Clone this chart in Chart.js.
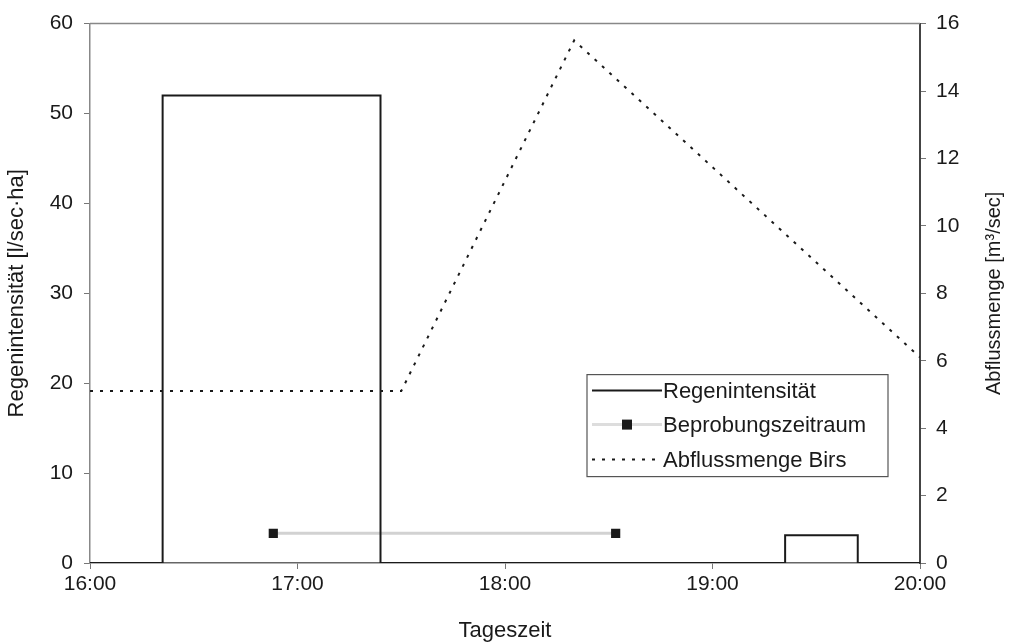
<!DOCTYPE html>
<html lang="de">
<head>
  <meta charset="UTF-8">
  <title>Regenintensität und Abflussmenge</title>
  <script src="https://cdn.jsdelivr.net/npm/chart.js"></script>
  <style>
    html, body { margin: 0; padding: 0; background: #fff; }
    #wrap { width: 1010px; height: 644px; position: relative; }
  </style>
</head>
<body>
  <div id="wrap"><canvas id="chart"></canvas></div>

  <script>
    // Zeit in Minuten nach 16:00
    const rainTimes  = [0, 21, 21, 84, 84, 201, 201, 222, 222, 240];
    const rainValues = [0, 0, 52, 52, 0, 0, 3.1, 3.1, 0, 0];

    const sampleTimes  = [53, 152];
    const sampleValues = [3.3, 3.3];

    const flowTimes  = [0, 90, 140, 240];
    const flowValues = [5.1, 5.1, 15.5, 6.1];

    const leftTicks  = [0, 10, 20, 30, 40, 50, 60];
    const rightTicks = [0, 2, 4, 6, 8, 10, 12, 14, 16];
    const timeTicks  = [0, 60, 120, 180, 240];

    const rightTitle = "Abflussmenge [m³/sec]";

    const pts = (xs, ys) => xs.map((x, i) => ({ x: x, y: ys[i] }));
    const fmtTime = m => (16 + Math.floor(m / 60)) + ":" + String(m % 60).padStart(2, "0");

    const FONT = 'Arial, "Liberation Sans", sans-serif';
    const ink = "#1a1a1a";

    // Rahmen oben, rechte Achsenbeschriftung und Legende
    const framePlugin = {
      id: "frame",
      afterDraw(chart) {
        const { ctx, chartArea: a } = chart;
        ctx.save();
        ctx.strokeStyle = "#888";
        ctx.lineWidth = 1.5;
        ctx.beginPath();
        ctx.moveTo(a.left, a.top);
        ctx.lineTo(a.right, a.top);
        ctx.stroke();

        // rechte Achse: von unten nach oben lesbar
        ctx.save();
        ctx.translate(chart.width - 16, (a.top + a.bottom) / 2);
        ctx.rotate(-Math.PI / 2);
        ctx.font = "20px " + FONT;
        ctx.fillStyle = ink;
        ctx.textAlign = "center";
        ctx.textBaseline = "middle";
        ctx.fillText(rightTitle, 0, 0);
        ctx.restore();

        // Legende
        const bx = a.right - 333, by = a.top + 351, bw = 301, bh = 102;
        ctx.fillStyle = "#fff";
        ctx.fillRect(bx, by, bw, bh);
        ctx.strokeStyle = "#555";
        ctx.lineWidth = 1.2;
        ctx.strokeRect(bx, by, bw, bh);

        const rows = [by + 16, by + 50, by + 85];
        const x0 = bx + 5, x1 = bx + 75;
        ctx.font = "22px " + FONT;
        ctx.textBaseline = "middle";

        ctx.strokeStyle = ink;
        ctx.lineWidth = 2;
        ctx.beginPath(); ctx.moveTo(x0, rows[0]); ctx.lineTo(x1, rows[0]); ctx.stroke();

        ctx.strokeStyle = "#ddd";
        ctx.lineWidth = 3;
        ctx.beginPath(); ctx.moveTo(x0, rows[1]); ctx.lineTo(x1, rows[1]); ctx.stroke();
        ctx.fillStyle = ink;
        ctx.fillRect((x0 + x1) / 2 - 5, rows[1] - 5, 10, 10);

        ctx.strokeStyle = ink;
        ctx.lineWidth = 2;
        ctx.setLineDash([3, 7]);
        ctx.beginPath(); ctx.moveTo(x0, rows[2]); ctx.lineTo(x1, rows[2]); ctx.stroke();
        ctx.setLineDash([]);

        ctx.fillStyle = ink;
        chart.data.datasets.forEach((d, i) => ctx.fillText(d.label, x1 + 1, rows[i] + 1));
        ctx.restore();
      }
    };

    const axisGrid = {
      drawOnChartArea: false,
      drawTicks: true,
      tickLength: 6,
      color: "#777"
    };

    new Chart(document.getElementById("chart"), {
      type: "line",
      data: {
        datasets: [
          {
            label: "Regenintensität",
            data: pts(rainTimes, rainValues),
            yAxisID: "y",
            borderColor: ink,
            borderWidth: 2,
            pointRadius: 0,
            tension: 0
          },
          {
            label: "Beprobungszeitraum",
            data: pts(sampleTimes, sampleValues),
            yAxisID: "y",
            borderColor: "#d2d2d2",
            borderWidth: 3,
            pointStyle: "rect",
            pointRadius: 6.5,
            pointBackgroundColor: ink,
            pointBorderColor: ink,
            pointBorderWidth: 0
          },
          {
            label: "Abflussmenge Birs",
            data: pts(flowTimes, flowValues),
            yAxisID: "y1",
            borderColor: ink,
            borderWidth: 2,
            borderDash: [3, 7],
            pointRadius: 0,
            tension: 0
          }
        ]
      },
      options: {
        responsive: true,
        maintainAspectRatio: false,
        animation: false,
        layout: { padding: { top: 22, left: 0, right: 0, bottom: 0 } },
        plugins: {
          legend: { display: false },
          tooltip: { enabled: false }
        },
        scales: {
          x: {
            type: "linear",
            min: 0,
            max: 240,
            afterBuildTicks: s => { s.ticks = timeTicks.map(v => ({ value: v })); },
            afterFit: s => { s.height = 81; },
            grid: axisGrid,
            border: { display: true, color: "#666", width: 1.5 },
            ticks: {
              color: ink,
              font: { family: FONT, size: 21 },
              padding: 3,
              maxRotation: 0,
              callback: v => fmtTime(v)
            },
            title: {
              display: true,
              text: "Tageszeit",
              color: ink,
              font: { family: FONT, size: 22 },
              padding: { top: 4, bottom: 0 }
            }
          },
          y: {
            position: "left",
            min: 0,
            max: 60,
            afterBuildTicks: s => { s.ticks = leftTicks.map(v => ({ value: v })); },
            afterFit: s => { s.width = 90; },
            grid: axisGrid,
            border: { display: true, color: "#888", width: 1.5 },
            ticks: {
              color: ink,
              font: { family: FONT, size: 21 },
              padding: 11
            },
            title: {
              display: true,
              text: "Regenintensität [l/sec·ha]",
              color: ink,
              font: { family: FONT, size: 22 },
              padding: { top: 4, bottom: 4 }
            }
          },
          y1: {
            position: "right",
            min: 0,
            max: 16,
            afterBuildTicks: s => { s.ticks = rightTicks.map(v => ({ value: v })); },
            afterFit: s => { s.width = 90; },
            grid: axisGrid,
            border: { display: true, color: "#444", width: 2 },
            ticks: {
              color: ink,
              font: { family: FONT, size: 21 },
              padding: 10
            },
            title: { display: false }
          }
        }
      },
      plugins: [framePlugin]
    });
  </script>
</body>
</html>
